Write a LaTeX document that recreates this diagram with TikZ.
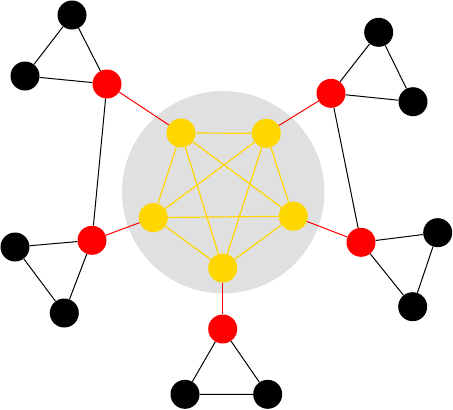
\documentclass[tikz,border=0pt]{standalone}
\definecolor{bggray}{HTML}{E0E0E0}
\definecolor{gold}{HTML}{FFD700}
\definecolor{rednode}{HTML}{FF0000}
\tikzset{
  vtx/.style={circle,minimum size=29pt,inner sep=0pt,draw=none},
  yv/.style={vtx,fill=gold},
  rv/.style={vtx,fill=rednode},
  bv/.style={vtx,fill=black},
  ye/.style={draw=gold,line width=1.2pt},
  re/.style={draw=rednode,line width=1pt},
  be/.style={draw=black,line width=1pt},
}
\begin{document}
\begin{tikzpicture}[x=1pt,y=-1pt]
\useasboundingbox (0,0) rectangle (453,410);
\fill[bggray] (223.2,192.2) circle (101.2pt);
% yellow
\node[yv] (y1) at (181,133) {};
\node[yv] (y2) at (266.3,133.3) {};
\node[yv] (y3) at (153.3,217.6) {};
\node[yv] (y4) at (293.3,216.2) {};
\node[yv] (y5) at (222.7,268) {};
% red
\node[rv] (r1) at (107,84) {};
\node[rv] (r2) at (331,93.3) {};
\node[rv] (r3) at (92,240.3) {};
\node[rv] (r4) at (361,242.3) {};
\node[rv] (r5) at (222.7,329) {};
% black
\node[bv] (b1a) at (72,15) {};
\node[bv] (b1b) at (25,76) {};
\node[bv] (b2a) at (378.7,32.3) {};
\node[bv] (b2b) at (413,101.7) {};
\node[bv] (b3a) at (15,247) {};
\node[bv] (b3b) at (64.3,313) {};
\node[bv] (b4a) at (437.7,232.7) {};
\node[bv] (b4b) at (412.7,306.7) {};
\node[bv] (b5a) at (185,394.3) {};
\node[bv] (b5b) at (267.7,394.3) {};
% K5
\draw[ye] (y1) -- (y2);
\draw[ye] (y1) -- (y3);
\draw[ye] (y1) -- (y4);
\draw[ye] (y1) -- (y5);
\draw[ye] (y2) -- (y3);
\draw[ye] (y2) -- (y4);
\draw[ye] (y2) -- (y5);
\draw[ye] (y3) -- (y4);
\draw[ye] (y3) -- (y5);
\draw[ye] (y4) -- (y5);
% red links
\draw[re] (y1) -- (r1);
\draw[re] (y2) -- (r2);
\draw[re] (y3) -- (r3);
\draw[re] (y4) -- (r4);
\draw[re] (y5) -- (r5);
% red-red
\draw[be] (r1) -- (r3);
\draw[be] (r2) -- (r4);
% triangles
\draw[be] (r1) -- (b1a) -- (b1b) -- (r1);
\draw[be] (r2) -- (b2a) -- (b2b) -- (r2);
\draw[be] (r3) -- (b3a) -- (b3b) -- (r3);
\draw[be] (r4) -- (b4a) -- (b4b) -- (r4);
\draw[be] (r5) -- (b5a) -- (b5b) -- (r5);
\end{tikzpicture}
\end{document}
